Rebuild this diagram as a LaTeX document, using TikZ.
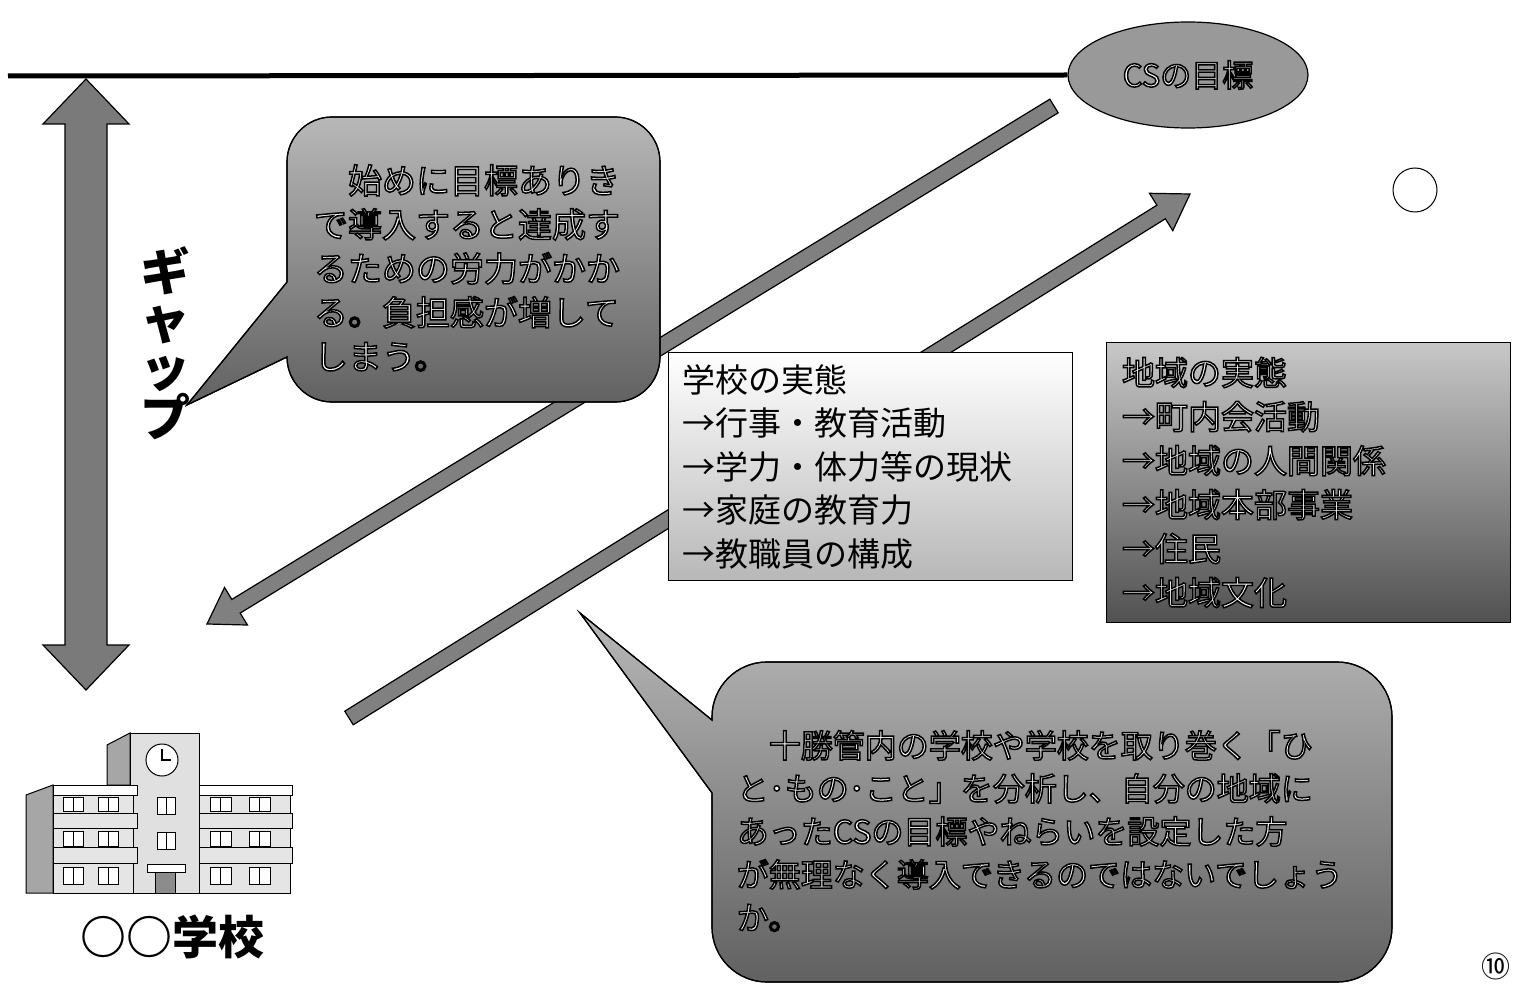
\documentclass[tikz,border=0pt]{standalone}
\usepackage{fontspec}
\setmainfont{Noto Sans CJK JP}
\usetikzlibrary{shapes.geometric,calc}

% white glyphs with a black contour (PDF text render mode 2)
\newcommand\outlineon{\special{pdf:literal direct 0 0 0 RG 1.5 w 2 Tr}}
\newcommand\outlineoff{\special{pdf:literal direct 0 Tr}}

% block arrow from coordinate #1 to coordinate #2
\newcommand\blockarrow[2]{%
  \coordinate (#2-base) at ($(#2)!34pt!(#1)$);
  \filldraw[diagarrow]
    ($(#1)!8pt!90:(#2)$) -- ($(#2-base)!8pt!90:(#2)$) -- ($(#2-base)!22pt!90:(#2)$)
    -- (#2) -- ($(#2-base)!22pt!-90:(#2)$) -- ($(#2-base)!8pt!-90:(#2)$)
    -- ($(#1)!8pt!-90:(#2)$) -- cycle;}

\begin{document}
\begin{tikzpicture}[x=1pt,y=-1pt,
  goalshape/.style={ellipse, draw=black, line width=1.2pt, fill=black!40,
    minimum width=240, minimum height=106, text=white,
    font=\fontsize{31}{31}\selectfont},
  gaparrow/.style={draw=black, line width=1.2pt, fill=black!52},
  diagarrow/.style={draw=black, line width=1.2pt, fill=black!50},
  bubble/.style={draw=black, line width=1.2pt, top color=black!28, bottom color=black!62},
  bubbletext/.style={text=white, align=left, inner sep=0pt},
  facts/.style={draw=black, line width=1pt, minimum width=404, align=left,
    inner ysep=6, font=\fontsize{33}{43.5}\selectfont},
  bld/.style={draw=black, line width=1pt, fill=black!10},
  win/.style={draw=black, line width=1pt, fill=white},
]
\fill[white] (0,0) rectangle (1513,984);
\useasboundingbox (0,0) rectangle (1513,984);

% goal and the reference line
\node[goalshape] (goal) at (1188,75) {\outlineon CSの目標\outlineoff};
\coordinate (lineL) at (8,76);
\draw[line width=5pt] (lineL) -- (goal.west);

% gap double arrow
\filldraw[gaparrow] (86,79) -- (129,124) -- (107,124) -- (107,645) -- (129,645)
  -- (86,690) -- (43,645) -- (65,645) -- (65,124) -- (43,124) -- cycle;
\node[font=\bfseries\fontsize{50}{48}\selectfont, align=center, inner sep=0pt]
  (gap) at (165,343) {ギ\\ャ\\ッ\\プ};

% diagonal arrows
\coordinate (downFrom) at (1054,106);
\coordinate (downTo) at (207,624);
\coordinate (upFrom) at (349,718);
\coordinate (upTo) at (1190,194);
\blockarrow{downFrom}{downTo}
\blockarrow{upFrom}{upTo}

% upper speech bubble
\shade[bubble] (287,282) -- (287,162) arc[start angle=180,end angle=270,radius=45]
  -- (615,117) arc[start angle=270,end angle=360,radius=45]
  -- (660,357) arc[start angle=0,end angle=90,radius=45]
  -- (332,402) arc[start angle=90,end angle=180,radius=45]
  -- (187,405) -- cycle;
\draw[line width=1.2pt] (287,282) -- (287,162) arc[start angle=180,end angle=270,radius=45]
  -- (615,117) arc[start angle=270,end angle=360,radius=45]
  -- (660,357) arc[start angle=0,end angle=90,radius=45]
  -- (332,402) arc[start angle=90,end angle=180,radius=45]
  -- (187,405) -- cycle;
\node[bubbletext, font=\fontsize{34}{44}\selectfont] (bubbleA) at (467,268)
  {\outlineon 　始めに目標ありき\\で導入すると達成す\\るための労力がかか\\る。負担感が増して\\しまう。\outlineoff};

% lower speech bubble
\shade[bubble] (712,720) -- (712,717) arc[start angle=180,end angle=270,radius=55]
  -- (1337,662) arc[start angle=270,end angle=360,radius=55]
  -- (1392,927) arc[start angle=0,end angle=90,radius=55]
  -- (767,982) arc[start angle=90,end angle=180,radius=55]
  -- (712,793) -- (580,613) -- cycle;
\draw[line width=1.2pt] (712,720) -- (712,717) arc[start angle=180,end angle=270,radius=55]
  -- (1337,662) arc[start angle=270,end angle=360,radius=55]
  -- (1392,927) arc[start angle=0,end angle=90,radius=55]
  -- (767,982) arc[start angle=90,end angle=180,radius=55]
  -- (712,793) -- (580,613) -- cycle;
\node[bubbletext, font=\fontsize{32}{43}\selectfont] (bubbleB) at (1040,831)
  {\outlineon 　十勝管内の学校や学校を取り巻く「ひ\\と･もの･こと」を分析し、自分の地域に\\あったCSの目標やねらいを設定した方\\が無理なく導入できるのではないでしょう\\か。\outlineoff};

% school and area fact boxes
\node[facts, minimum height=227, text width=376, inner xsep=14,
  top color=white, bottom color=black!28] (schoolfacts) at (870,466.5)
  {学校の実態\\→行事・教育活動\\→学力・体力等の現状\\→家庭の教育力\\→教職員の構成};
\node[facts, minimum height=279, text width=372, inner xsep=16, text=white,
  top color=black!22, bottom color=black!68, font=\fontsize{33}{44}\selectfont]
  (areafacts) at (1308,482.5)
  {\outlineon 地域の実態\\→町内会活動\\→地域の人間関係\\→地域本部事業\\→住民\\→地域文化\outlineoff};

% small circle and page number
\node[draw=black, line width=1pt, circle, minimum size=44, inner sep=0pt] (mark) at (1415,190) {};
\node[font=\fontsize{29}{29}\selectfont, inner sep=0pt, anchor=east] (pageno) at (1511,966) {⑩};

% school building
\filldraw[bld, fill=black!35] (107,745) -- (130,733) -- (130,785) -- (107,785) -- cycle;
\filldraw[bld, fill=black!12] (130,733) rectangle (199,893);
\filldraw[win] (162,760) circle[radius=16];
\draw[line width=1.5pt] (162,749) -- (162,760) -- (171,760);
\filldraw[win] (157,797) rectangle (175,814);
\draw (166,797) -- (166,814);
\filldraw[win] (157,832) rectangle (175,849);
\draw (166,832) -- (166,849);
\filldraw[bld, fill=white] (147,864) rectangle (185,872);
\filldraw[bld, fill=black!45] (155,872) rectangle (175,893);
% left wing
\filldraw[bld, fill=black!35] (26,795) -- (53,785) -- (53,893) -- (26,893) -- cycle;
\filldraw[bld] (53,785) rectangle (133,893);
\filldraw[bld, fill=white] (53,785) rectangle (137,795);
\filldraw[bld] (53,813) rectangle (137,828);
\filldraw[bld] (53,847) rectangle (137,863);
\foreach \wx in {63,98} {
  \foreach \wy/\wh in {797/14,831/15,867/17} {
    \filldraw[win] (\wx,\wy) rectangle ++(20,\wh);
    \draw (\wx+10,\wy) -- ++(0,\wh);
  }
}
% right wing
\filldraw[bld] (199,785) rectangle (290,893);
\filldraw[bld, fill=white] (199,785) rectangle (292,795);
\filldraw[bld] (199,813) rectangle (292,828);
\filldraw[bld] (199,847) rectangle (292,863);
\foreach \wx in {210,249} {
  \foreach \wy/\wh in {797/14,831/15,867/17} {
    \filldraw[win] (\wx,\wy) rectangle ++(21,\wh);
    \draw (\wx+10.5,\wy) -- ++(0,\wh);
  }
}
\node[font=\bfseries\fontsize{46}{46}\selectfont, inner sep=0pt] (schoolname) at (172,937) {○○学校};
\end{tikzpicture}
\end{document}
